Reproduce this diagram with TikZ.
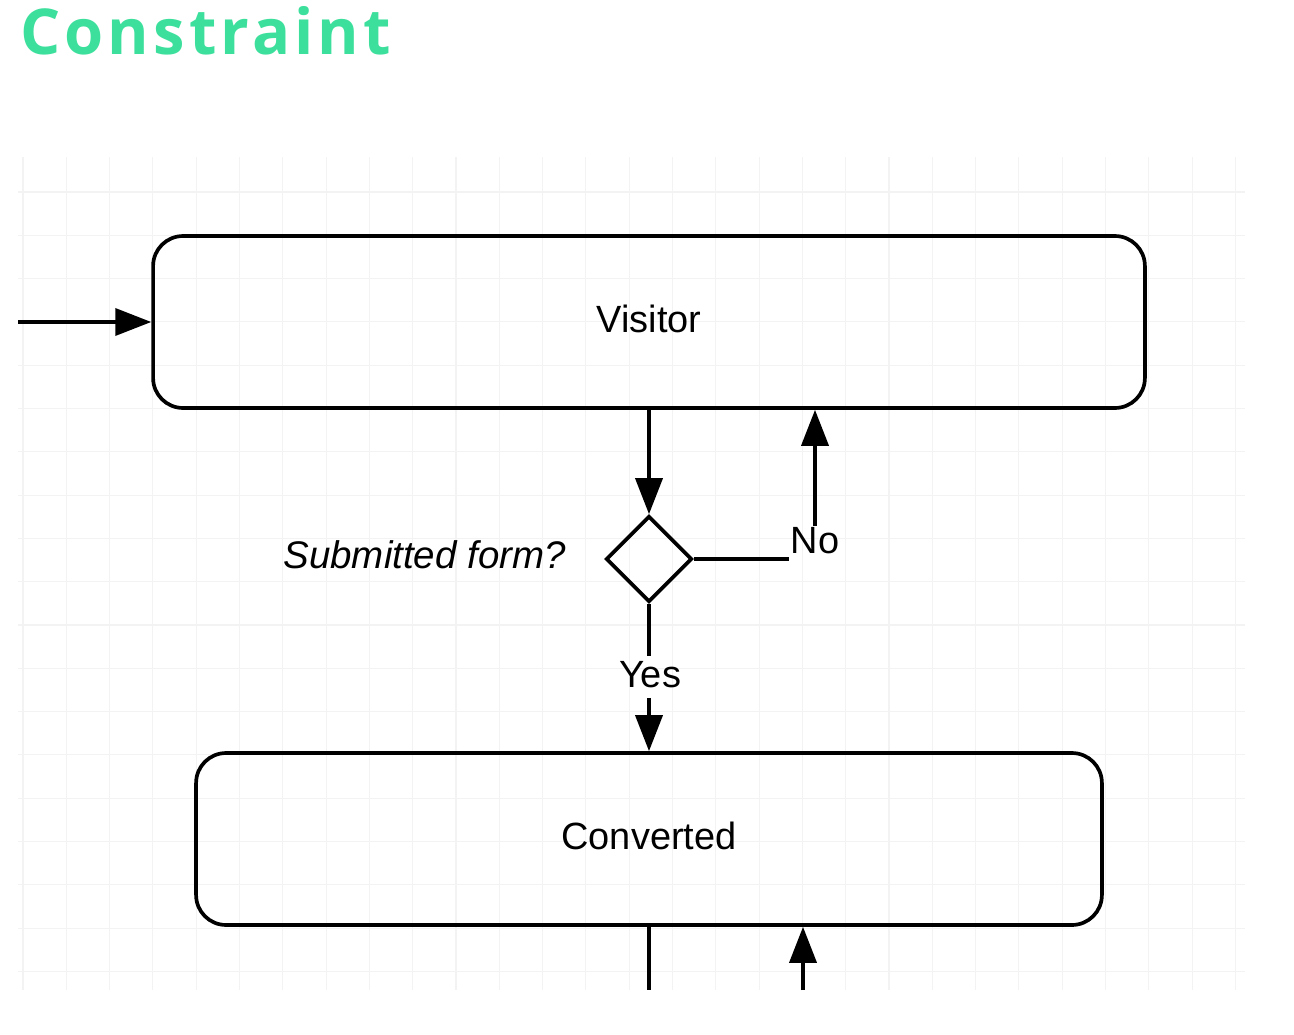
\documentclass[tikz,border=0pt]{standalone}
\usepackage{fontspec}
\setmainfont{Liberation Sans}
\newfontfamily\titlefont[LetterSpace=6.5]{Open Sans}
\usetikzlibrary{positioning,shapes.geometric,arrows.meta}
\definecolor{titlegreen}{RGB}{61,223,156}
\definecolor{gridgray}{RGB}{243,243,243}

\begin{document}
\begin{tikzpicture}[x=0.02cm,y=-0.02cm,
    state/.style={draw,line width=2.1pt,rounded corners=0.6cm,minimum height=3.44cm,
      text depth=0.4em,font=\fontsize{21.6}{26}\selectfont},
    lbl/.style={font=\fontsize{21.6}{26}\selectfont},
    line/.style={line width=2.1pt},
    arr/.style={line width=2.1pt,-{Triangle[length=0.72cm,width=0.54cm]}}]
  \useasboundingbox (0,0) rectangle (1294,1034);
  % background grid
  \foreach \i in {0,...,28}
    \draw[gridgray,line width=0.6pt] (23+43.3*\i,157) -- (23+43.3*\i,990);
  \foreach \j in {0,...,18}
    \draw[gridgray,line width=0.6pt] (18,192+43.3*\j) -- (1245,192+43.3*\j);
  \node[anchor=base west,text=titlegreen,font=\titlefont\bfseries\fontsize{36}{40}\selectfont] (title) at (14,55) {Constraint};
  \node[state,minimum width=19.84cm] (visitor) at (649,322) {Visitor};
  \node[state,minimum width=18.12cm] (converted) at (649,839) {Converted};
  \node[draw,diamond,line width=2.1pt,minimum size=1.72cm,inner sep=0pt] (dec) at (649,559) {};
  \node[left=0.76cm of dec,inner sep=0pt,text depth=0.45em,font=\fontsize{21.9}{26}\selectfont\itshape] (ask) {Submitted form?};
  \node[lbl,inner sep=1pt] (no) at (815,541) {No};
  \node[lbl,inner sep=3pt,text depth=0.25em] (yes) at (650,677) {Yes};
  \coordinate (in) at (18,322);
  \coordinate (out) at (649,990);
  \coordinate (back) at (803,990);
  \draw[arr] (in) -- (visitor.west);
  \draw[arr] (visitor.south) -- (dec.north);
  \draw[line] (dec.east) -- (dec.east -| no.west);
  \draw[arr] (no.north) -- (no.north |- visitor.south);
  \draw[line] (dec.south) -- (dec.south |- yes.north);
  \draw[arr] (dec.south |- yes.south) -- (dec.south |- converted.north);
  \draw[line] (converted.south) -- (out);
  \draw[arr] (back) -- (back |- converted.south);
\end{tikzpicture}
\end{document}
